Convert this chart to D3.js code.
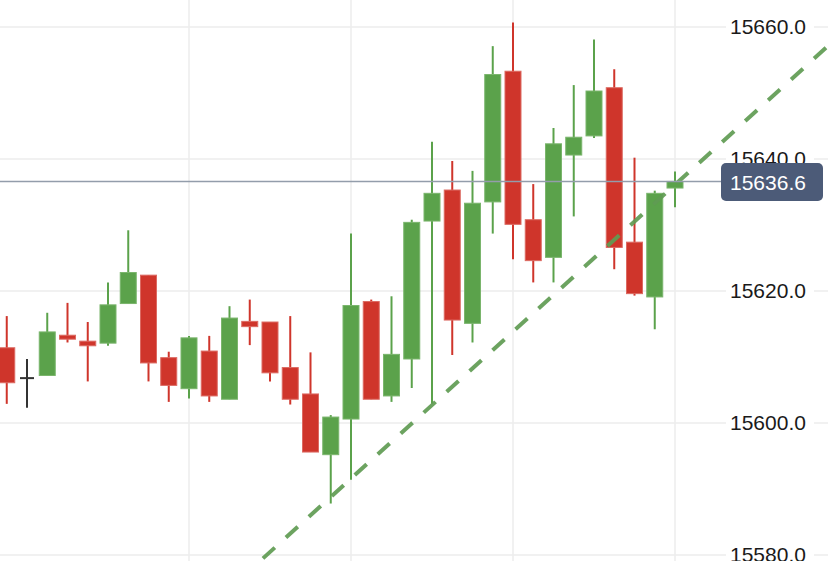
<!DOCTYPE html>
<html>
<head>
<meta charset="utf-8">
<script src="https://cdn.jsdelivr.net/npm/d3@7"></script>
<style>
  html, body { margin: 0; padding: 0; background: #fff; }
  svg { display: block; font-family: "Liberation Sans", Arial, Helvetica, sans-serif; }
</style>
</head>
<body>
<div id="canvas"></div>
<script>
// candles, oldest first (the first one is cut by the left edge)
const open  = [15611.4, 15606.8, 15607.2, 15613.3, 15612.4, 15612.1, 15618.1, 15622.4, 15609.9, 15605.2,
               15610.9, 15603.6, 15615.4, 15615.3, 15608.4, 15604.4, 15595.2, 15600.6, 15618.4, 15604.1,
               15609.7, 15630.6, 15635.3, 15615.1, 15633.5, 15653.3, 15630.8, 15625.1, 15640.6, 15643.5,
               15650.8, 15627.4, 15619.1, 15635.6];
const high  = [15616.2, 15609.7, 15616.7, 15618.2, 15615.3, 15621.3, 15629.2, 15622.4, 15610.8, 15613.2,
               15613.2, 15617.7, 15618.7, 15615.3, 15616.2, 15610.7, 15601.2, 15628.7, 15618.7, 15619.2,
               15630.8, 15642.6, 15639.7, 15638.2, 15657.1, 15660.7, 15636.2, 15644.7, 15651.2, 15658.1,
               15653.6, 15640.2, 15635.2, 15638.1];
const low   = [15602.9, 15602.3, 15607.2, 15612.2, 15606.3, 15611.7, 15618.1, 15606.3, 15603.2, 15603.7,
               15603.2, 15603.6, 15611.8, 15606.3, 15602.8, 15595.6, 15587.8, 15591.4, 15603.6, 15603.2,
               15605.3, 15602.9, 15610.3, 15612.2, 15628.7, 15624.8, 15621.3, 15621.3, 15631.3, 15643.2,
               15623.3, 15619.3, 15614.2, 15632.7];
const close = [15606.1, 15606.8, 15613.8, 15612.7, 15611.7, 15617.9, 15622.8, 15609.1, 15605.7, 15612.9,
               15604.1, 15615.9, 15614.6, 15607.6, 15603.6, 15595.6, 15600.9, 15617.8, 15603.6, 15610.4,
               15630.4, 15634.8, 15615.6, 15633.3, 15652.8, 15630.1, 15624.6, 15642.3, 15643.3, 15650.3,
               15626.6, 15619.6, 15634.8, 15636.6];

const yTicks = [15580, 15600, 15620, 15640, 15660];
const timeGridIdx = [9, 17, 25, 33];          // candles that carry a vertical grid line
const trendPoints = [{ i: 16, v: 15588.8 }, { i: 33, v: 15636.1 }]; // support line
const lastPrice = 15636.6;

const width = 828;
const height = 561;
const plotRight = 722;

const svg = d3.select("#canvas").append("svg")
  .attr("width", width)
  .attr("height", height);

const x = d3.scaleLinear()
  .domain([0, open.length - 1])
  .range([6.75, 675]);

const y = d3.scaleLinear()
  .domain([15580, 15660])
  .range([555, 27]);

// grid
const grid = svg.append("g").attr("class", "grid");
grid.selectAll("line.h").data(yTicks).enter().append("line")
  .attr("class", "h")
  .attr("x1", 0).attr("x2", width)
  .attr("y1", d => y(d)).attr("y2", d => y(d))
  .attr("stroke", "#ececec").attr("stroke-width", 1.5);
grid.selectAll("line.v").data(timeGridIdx).enter().append("line")
  .attr("class", "v")
  .attr("x1", d => x(d)).attr("x2", d => x(d))
  .attr("y1", 0).attr("y2", height)
  .attr("stroke", "#ececec").attr("stroke-width", 1.5);

// candles
const candles = d3.range(open.length).map(i => ({
  i, o: open[i], h: high[i], l: low[i], c: close[i]
}));
const colorOf = d => d.c > d.o ? "#5ba24b" : (d.c < d.o ? "#cf352b" : "#333333");
const edgeOf = d => d.c > d.o ? "#7ab56c" : (d.c < d.o ? "#dc6a62" : "#333333");
const bodyW = 16;

const cg = svg.append("g").attr("class", "candles");

cg.selectAll("line.wick").data(candles).enter().append("line")
  .attr("class", "wick")
  .attr("x1", d => x(d.i)).attr("x2", d => x(d.i))
  .attr("y1", d => y(d.h)).attr("y2", d => y(d.l))
  .attr("stroke", colorOf)
  .attr("stroke-width", 2);

cg.selectAll("rect.body").data(candles.filter(d => d.o !== d.c)).enter().append("rect")
  .attr("class", "body")
  .attr("x", d => x(d.i) - bodyW / 2)
  .attr("y", d => y(Math.max(d.o, d.c)))
  .attr("width", bodyW)
  .attr("height", d => Math.max(1, y(Math.min(d.o, d.c)) - y(Math.max(d.o, d.c))))
  .attr("fill", colorOf)
  .attr("stroke", edgeOf)
  .attr("stroke-width", 1);

cg.selectAll("line.doji").data(candles.filter(d => d.o === d.c)).enter().append("line")
  .attr("class", "doji")
  .attr("x1", d => x(d.i) - 7).attr("x2", d => x(d.i) + 7)
  .attr("y1", d => y(d.c)).attr("y2", d => y(d.c))
  .attr("stroke", colorOf)
  .attr("stroke-width", 2);

// dashed trend line, extended across the chart
const slope = (trendPoints[1].v - trendPoints[0].v) / (trendPoints[1].i - trendPoints[0].i);
const trendAt = i => trendPoints[0].v + slope * (i - trendPoints[0].i);
const iStart = x.invert(240);
const iEnd = x.invert(width + 10);
svg.append("line")
  .attr("x1", x(iStart)).attr("y1", y(trendAt(iStart)))
  .attr("x2", x(iEnd)).attr("y2", y(trendAt(iEnd)))
  .attr("stroke", "#5f9b52")
  .attr("stroke-opacity", 0.92)
  .attr("stroke-width", 4)
  .attr("stroke-dasharray", "16,15");

// last price line
svg.append("line")
  .attr("x1", 0).attr("x2", plotRight)
  .attr("y1", y(lastPrice)).attr("y2", y(lastPrice))
  .attr("stroke", "#939dab")
  .attr("stroke-width", 1.5);

// right price axis
const axis = svg.append("g")
  .attr("transform", `translate(${plotRight},0)`);

axis.selectAll("rect.bg").data(yTicks).enter().append("rect")
  .attr("class", "bg")
  .attr("x", 4).attr("y", d => y(d) - 12)
  .attr("width", 88).attr("height", 24)
  .attr("fill", "#fff");

axis.call(d3.axisRight(y).tickValues(yTicks).tickFormat(d3.format(".1f")).tickSize(0).tickPadding(8))
  .call(g => g.select(".domain").remove())
  .call(g => g.selectAll("text")
    .attr("fill", "#1a1a1a")
    .attr("font-size", 21)
    .attr("font-family", "\"Liberation Sans\", Arial, Helvetica, sans-serif"));

// last price badge
const badge = svg.append("g")
  .attr("transform", `translate(${plotRight - 1},${y(lastPrice)})`);
badge.append("rect")
  .attr("x", 0).attr("y", -18.5)
  .attr("width", 102).attr("height", 38)
  .attr("rx", 5).attr("ry", 5)
  .attr("fill", "#4c5b78");
badge.append("text")
  .attr("x", 9).attr("y", 1)
  .attr("dy", "0.35em")
  .attr("fill", "#ffffff")
  .attr("font-size", 21)
  .text(d3.format(".1f")(lastPrice));
</script>
</body>
</html>
